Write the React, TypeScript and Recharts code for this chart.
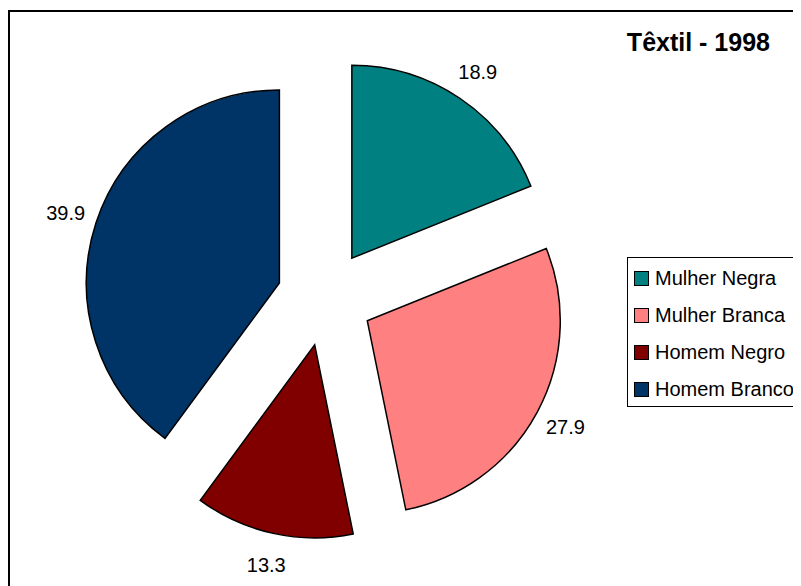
// Têxtil - 1998 — pizza explodida (recharts).

import { PieChart, Pie, Cell, Sector, Legend, Customized } from "recharts";

const categories = ["Mulher Negra", "Mulher Branca", "Homem Negro", "Homem Branco"];
const values = [18.9, 27.9, 13.3, 39.9];
const colors = ["#008080", "#FF8080", "#800000", "#003366"];
const title = "Têxtil - 1998";

const data = categories.map((name, i) => ({ name, value: values[i] }));

const RAD = Math.PI / 180;
const EXPLODE = 48;
const FONT = "'Liberation Sans', Arial, sans-serif";

function ExplodedSector(props: any) {
  const { cx, cy, midAngle } = props;
  const dx = EXPLODE * Math.cos(-midAngle * RAD);
  const dy = EXPLODE * Math.sin(-midAngle * RAD);
  return <Sector {...props} cx={cx + dx} cy={cy + dy} />;
}

function renderLabel(props: any) {
  const { cx, cy, midAngle, outerRadius, value } = props;
  const r = outerRadius + EXPLODE + 32;
  const x = cx + r * Math.cos(-midAngle * RAD);
  const y = cy + r * Math.sin(-midAngle * RAD);
  return (
    <text x={x} y={y} textAnchor="middle" dominantBaseline="central" fontSize={20} fill="#000" fontFamily={FONT}>
      {Number(value).toFixed(1)}
    </text>
  );
}

function LegendBox() {
  return (
    <div style={{ border: "1px solid #000", width: 190, height: 150, boxSizing: "border-box", paddingTop: 2, background: "#fff", fontFamily: FONT }}>
      {categories.map((c, i) => (
        <div key={c} style={{ display: "flex", alignItems: "center", height: 37 }}>
          <span style={{ display: "inline-block", width: 13, height: 13, border: "1px solid #000", background: colors[i], marginLeft: 6 }} />
          <span style={{ fontSize: 20, marginLeft: 6, color: "#000", whiteSpace: "nowrap" }}>{c}</span>
        </div>
      ))}
    </div>
  );
}

export default function App() {
  return (
    <div style={{ position: "relative", width: 793, height: 578, overflow: "hidden", background: "#fff" }}>
      <div style={{ position: "absolute", left: 0, top: 2, width: 900, height: 700, borderTop: "2px solid #000", borderLeft: "2px solid #000", boxSizing: "border-box" }} />
      <PieChart width={793} height={578} margin={{ top: 0, right: 0, bottom: 0, left: 0 }}>
        <Pie
          data={data}
          dataKey="value"
          nameKey="name"
          cx={317}
          cy={290}
          outerRadius={193}
          startAngle={90}
          endAngle={-270}
          stroke="#000"
          strokeWidth={1.5}
          shape={ExplodedSector}
          label={renderLabel}
          labelLine={false}
          isAnimationActive={false}
        >
          {data.map((d, i) => (
            <Cell key={d.name} fill={colors[i]} />
          ))}
        </Pie>
        <Legend
          layout="vertical"
          align="right"
          verticalAlign="top"
          content={() => <LegendBox />}
          wrapperStyle={{ position: "absolute", left: 619, top: 249, width: 190 }}
        />
        <Customized
          component={() => (
            <text x={762} y={43} textAnchor="end" fontSize={25} fontWeight="bold" fill="#000" fontFamily={FONT}>
              {title}
            </text>
          )}
        />
      </PieChart>
    </div>
  );
}
